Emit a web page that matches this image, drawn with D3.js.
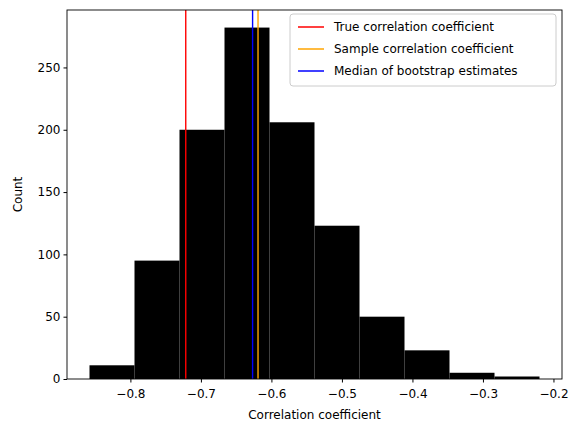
<!DOCTYPE html>
<html>
<head>
<meta charset="utf-8">
<script src="https://cdn.jsdelivr.net/npm/d3@7"></script>
<style>
  body { margin: 0; background: #fff; }
  text { font-family: "DejaVu Sans", sans-serif; }
</style>
</head>
<body>
<svg id="chart" width="580" height="433"></svg>
<script>
const binStart = -0.858;
const binEnd = -0.2198;
const counts = [11, 95, 200, 282, 206, 123, 50, 23, 5, 2];
const xTicks = [-0.8, -0.7, -0.6, -0.5, -0.4, -0.3, -0.2];
const yTicks = [0, 50, 100, 150, 200, 250];
const vlines = [
  { label: "True correlation coefficient", value: -0.7215, color: "red" },
  { label: "Sample correlation coefficient", value: -0.619, color: "orange" },
  { label: "Median of bootstrap estimates", value: -0.6267, color: "blue" }
];

const pLeft = 67, pRight = 562, pTop = 10, pBottom = 379;
const svg = d3.select("#chart");

const span = binEnd - binStart;
const x = d3.scaleLinear()
  .domain([binStart - span * 0.05, binEnd + span * 0.05])
  .range([pLeft, pRight]);
const y = d3.scaleLinear()
  .domain([0, d3.max(counts) * 1.05])
  .range([pBottom, pTop]);

const w = span / counts.length;
svg.append("g").selectAll("rect")
  .data(counts)
  .join("rect")
  .attr("x", (d, i) => x(binStart + i * w))
  .attr("width", x(binStart + w) - x(binStart))
  .attr("y", d => y(d))
  .attr("height", d => y(0) - y(d))
  .attr("fill", "black");

// vertical lines, drawn in plot order: true, sample, median
svg.append("g").selectAll("line")
  .data(vlines)
  .join("line")
  .attr("x1", d => x(d.value)).attr("x2", d => x(d.value))
  .attr("y1", pTop).attr("y2", pBottom)
  .attr("stroke", d => d.color)
  .attr("stroke-width", 1.4);

const fmt = d => d.toFixed(1).replace("-", "\u2212");
const xAxis = svg.append("g")
  .attr("transform", `translate(0,${pBottom})`)
  .call(d3.axisBottom(x).tickValues(xTicks).tickFormat(fmt).tickSizeOuter(0).tickSize(3.5));
const yAxis = svg.append("g")
  .attr("transform", `translate(${pLeft},0)`)
  .call(d3.axisLeft(y).tickValues(yTicks).tickSizeOuter(0).tickSize(3.5));
[xAxis, yAxis].forEach(a => {
  a.select(".domain").remove();
  a.selectAll("text").attr("font-size", 12).attr("fill", "black")
    .attr("font-family", "DejaVu Sans, sans-serif");
});
xAxis.selectAll("text").attr("dy", "1em");

svg.append("rect")
  .attr("x", pLeft).attr("y", pTop)
  .attr("width", pRight - pLeft).attr("height", pBottom - pTop)
  .attr("fill", "none").attr("stroke", "black").attr("stroke-width", 0.9);

svg.append("text")
  .attr("x", (pLeft + pRight) / 2).attr("y", 419)
  .attr("text-anchor", "middle").attr("font-size", 12)
  .text("Correlation coefficient");
svg.append("text")
  .attr("transform", `translate(22,${(pTop + pBottom) / 2}) rotate(-90)`)
  .attr("text-anchor", "middle").attr("font-size", 12)
  .text("Count");

// legend
const lg = svg.append("g").attr("transform", "translate(290,14)");
lg.append("rect")
  .attr("width", 266).attr("height", 72).attr("rx", 3)
  .attr("fill", "white").attr("fill-opacity", 0.8)
  .attr("stroke", "#ccc");
const items = lg.selectAll("g.item")
  .data(vlines)
  .join("g")
  .attr("transform", (d, i) => `translate(8,${13 + i * 22})`);
items.append("line")
  .attr("x1", 0).attr("x2", 26)
  .attr("stroke", d => d.color).attr("stroke-width", 1.5);
items.append("text")
  .attr("x", 36).attr("dy", "0.35em").attr("font-size", 12)
  .text(d => d.label);
</script>
</body>
</html>
